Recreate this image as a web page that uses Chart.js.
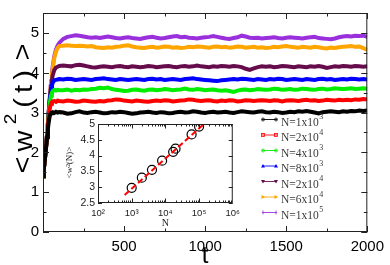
<!DOCTYPE html>
<html><head><meta charset="utf-8">
<script src="https://cdn.jsdelivr.net/npm/chart.js@4.4.0/dist/chart.umd.min.js"></script>
<style>
html,body{margin:0;padding:0;background:#fff;}
#wrap{position:relative;width:390px;height:265px;overflow:hidden;background:#fff;}
#main{position:absolute;left:0;top:0;}
#inset{position:absolute;left:60px;top:112px;}
</style></head><body>
<div id="wrap"><canvas id="main" width="390" height="265"></canvas><canvas id="inset" width="185" height="122"></canvas></div>
<script>
// ---------- DATA ----------
const times = [0,5,10,15,20,25,30,35,40,45,50,55,60,70,80,90,100,
125,150,175,200,225,250,275,300,325,350,
375,400,425,450,475,500,525,550,575,600,
625,650,675,700,725,750,775,800,825,850,
875,900,925,950,975,1000,1025,1050,1075,1100,
1125,1150,1175,1200,1225,1250,1275,1300,1325,1350,
1375,1400,1425,1450,1475,1500,1525,1550,1575,1600,
1625,1650,1675,1700,1725,1750,1775,1800,1825,1850,
1875,1900,1925,1950,1975,2000];

const wN1e3 = [1.40,1.58,1.76,1.95,2.16,2.38,2.58,2.76,2.88,2.95,2.98,3.00,3.01,2.99,3.02,3.00,3.01,
3.00,2.97,2.98,3.01,3.03,3.00,2.99,3.01,3.02,3.00,
2.98,2.99,3.01,3.00,3.02,3.01,2.99,2.97,2.98,3.00,
3.01,3.02,3.00,2.99,3.01,3.00,2.98,2.99,3.01,3.02,
3.00,3.01,3.03,3.02,3.00,2.99,3.01,3.02,3.00,3.01,
3.02,3.00,2.99,3.01,3.03,3.02,3.01,3.00,3.02,3.03,
3.01,3.00,3.02,3.01,2.99,3.00,3.02,3.01,3.03,3.02,
3.04,3.02,3.00,2.98,3.01,3.02,3.03,3.02,3.01,3.03,
3.02,3.04,3.03,3.05,3.04,3.05];

const wN2e3 = [1.40,1.58,1.77,1.97,2.18,2.42,2.66,2.90,3.06,3.16,3.22,3.26,3.28,3.29,3.27,3.30,3.29,
3.28,3.30,3.29,3.27,3.28,3.30,3.29,3.28,3.27,3.29,
3.28,3.30,3.31,3.33,3.32,3.30,3.29,3.28,3.30,3.29,
3.28,3.27,3.29,3.30,3.29,3.31,3.30,3.28,3.29,3.30,
3.31,3.33,3.32,3.30,3.29,3.30,3.31,3.29,3.28,3.30,
3.29,3.31,3.30,3.28,3.29,3.31,3.30,3.29,3.30,3.31,
3.30,3.29,3.31,3.30,3.28,3.30,3.31,3.30,3.29,3.31,
3.32,3.30,3.31,3.29,3.30,3.32,3.31,3.30,3.32,3.31,
3.32,3.31,3.33,3.32,3.34,3.33];

const wN4e3 = [1.39,1.58,1.77,1.97,2.19,2.43,2.69,2.95,3.16,3.32,3.43,3.50,3.54,3.57,3.55,3.57,3.56,
3.56,3.58,3.55,3.57,3.56,3.58,3.57,3.59,3.60,3.62,
3.61,3.63,3.59,3.57,3.56,3.54,3.55,3.57,3.58,3.56,
3.55,3.57,3.58,3.56,3.57,3.59,3.58,3.56,3.57,3.58,
3.60,3.58,3.57,3.59,3.58,3.56,3.57,3.58,3.56,3.55,
3.56,3.54,3.52,3.55,3.57,3.58,3.56,3.57,3.59,3.58,
3.57,3.58,3.60,3.59,3.57,3.58,3.59,3.57,3.58,3.60,
3.59,3.58,3.57,3.59,3.60,3.58,3.59,3.61,3.60,3.59,
3.60,3.61,3.59,3.60,3.61,3.60];

const wN8e3 = [1.40,1.59,1.78,1.98,2.20,2.44,2.70,2.97,3.22,3.42,3.58,3.68,3.75,3.81,3.82,3.83,3.84,
3.83,3.85,3.84,3.82,3.83,3.84,3.83,3.82,3.84,3.85,
3.86,3.84,3.83,3.82,3.84,3.83,3.82,3.83,3.84,3.83,
3.82,3.84,3.85,3.83,3.84,3.82,3.83,3.84,3.83,3.82,
3.84,3.85,3.86,3.84,3.83,3.82,3.81,3.80,3.79,3.81,
3.82,3.83,3.84,3.83,3.85,3.84,3.83,3.82,3.84,3.83,
3.82,3.84,3.83,3.85,3.84,3.82,3.83,3.84,3.83,3.82,
3.84,3.83,3.82,3.84,3.85,3.83,3.84,3.82,3.83,3.84,
3.83,3.85,3.84,3.83,3.84,3.83];

const wN2e4 = [1.40,1.59,1.78,1.98,2.20,2.45,2.71,2.98,3.24,3.46,3.66,3.82,3.94,4.07,4.13,4.15,4.17,
4.18,4.17,4.16,4.19,4.20,4.18,4.16,4.14,4.13,4.15,
4.16,4.15,4.14,4.16,4.17,4.15,4.14,4.16,4.15,4.14,
4.15,4.17,4.16,4.14,4.15,4.16,4.17,4.15,4.14,4.16,
4.17,4.15,4.16,4.18,4.16,4.15,4.14,4.16,4.15,4.17,
4.16,4.15,4.17,4.16,4.14,4.10,4.07,4.11,4.14,4.16,
4.15,4.16,4.14,4.15,4.17,4.16,4.15,4.14,4.16,4.15,
4.14,4.16,4.15,4.17,4.15,4.12,4.14,4.16,4.15,4.17,
4.16,4.15,4.17,4.16,4.15,4.16];

const wN6e4 = [1.41,1.60,1.79,1.99,2.21,2.46,2.72,3.00,3.27,3.52,3.76,3.96,4.12,4.38,4.53,4.62,4.67,
4.68,4.69,4.68,4.67,4.68,4.67,4.66,4.67,4.64,4.63,
4.62,4.64,4.63,4.65,4.66,4.68,4.69,4.66,4.64,4.63,
4.62,4.64,4.65,4.63,4.64,4.66,4.65,4.63,4.64,4.62,
4.63,4.65,4.64,4.66,4.65,4.64,4.63,4.65,4.66,4.64,
4.65,4.63,4.64,4.66,4.65,4.63,4.64,4.65,4.63,4.64,
4.62,4.63,4.65,4.64,4.66,4.67,4.65,4.64,4.63,4.65,
4.64,4.63,4.65,4.64,4.62,4.61,4.63,4.62,4.64,4.65,
4.66,4.67,4.65,4.66,4.62,4.57];

const wN1e5 = [1.41,1.60,1.79,1.99,2.21,2.46,2.72,3.00,3.28,3.54,3.78,3.99,4.16,4.42,4.58,4.68,4.75,
4.85,4.90,4.92,4.94,4.93,4.91,4.89,4.88,4.89,4.87,
4.89,4.91,4.89,4.87,4.86,4.88,4.89,4.87,4.86,4.85,
4.87,4.89,4.90,4.88,4.86,4.87,4.89,4.91,4.92,4.89,
4.90,4.88,4.87,4.86,4.88,4.89,4.90,4.92,4.90,4.88,
4.86,4.85,4.87,4.89,4.93,4.91,4.88,4.87,4.88,4.86,
4.87,4.88,4.89,4.87,4.86,4.88,4.89,4.88,4.87,4.86,
4.88,4.89,4.90,4.87,4.86,4.85,4.84,4.86,4.89,4.91,
4.92,4.91,4.93,4.92,4.93,4.90];

const legendBase = ['N=1x10','N=2x10','N=4x10','N=8x10','N=2x10','N=6x10','N=1x10'];
const legendExp  = ['3','4','3','3','4','4','5'];

const xTickValues = [500,1000,1500,2000];
const xTickLabels = ['500','1000','1500','2000'];
const yTickValues = [0,1,2,3,4,5];

const insetN = [1000,2000,4000,8000,17000,20000,60000,100000];
const insetW = [2.98,3.30,3.55,3.84,4.12,4.22,4.67,4.92];
const fitN = [617,140000];
const fitW = [2.75,5.0];
const insetXTickValues = [100,1000,10000,100000,1000000];
const insetXTickLabels = ['10\u00B2','10\u00B3','10\u2074','10\u2075','10\u2076'];
const insetYTickValues = [2.5,3,3.5,4,4.5,5];

// ---------- STYLE ----------
const colors = ['#000000','#ff0000','#00ee00','#0000ff','#660c4c','#ffa500','#9a30dc'];
const markers = ['circle','square','circle','triUp','triDown','triRight','plus'];
const series = [wN1e3,wN2e3,wN4e3,wN8e3,wN2e4,wN6e4,wN1e5];
const SANS = "'Liberation Sans', Arial, sans-serif";
const SERIF = "'Liberation Serif', 'Times New Roman', serif";
Chart.defaults.font.family = SANS;

function drawMarker(ctx, type, x, y, col){
  ctx.save(); ctx.strokeStyle = col; ctx.fillStyle = col; ctx.lineWidth = 0.8;
  ctx.beginPath();
  if(type==='circle'){ ctx.arc(x,y,1.5,0,Math.PI*2); ctx.stroke(); }
  else if(type==='square'){ ctx.strokeRect(x-1.5,y-1.5,3,3); }
  else if(type==='triUp'){ ctx.moveTo(x,y-2); ctx.lineTo(x+2,y+1.5); ctx.lineTo(x-2,y+1.5); ctx.closePath(); ctx.fill(); }
  else if(type==='triDown'){ ctx.moveTo(x,y+2); ctx.lineTo(x+2,y-1.5); ctx.lineTo(x-2,y-1.5); ctx.closePath(); ctx.fill(); }
  else if(type==='triRight'){ ctx.moveTo(x+2,y); ctx.lineTo(x-1.5,y-2); ctx.lineTo(x-1.5,y+2); ctx.closePath(); ctx.fill(); }
  else if(type==='plus'){ ctx.moveTo(x,y-2); ctx.lineTo(x,y+2); ctx.stroke(); }
  ctx.restore();
}

const mainDeco = {
  id:'mainDeco',
  afterDraw(c){
    const {ctx, chartArea:a, scales:{x,y}} = c;
    ctx.save();
    ctx.strokeStyle = '#222'; ctx.lineWidth = 1;
    ctx.strokeRect(a.left+0.5, a.top+0.5, a.right-a.left-1, a.bottom-a.top-1);
    ctx.beginPath();
    for(let v=0; v<=2000; v+=250){
      const px = Math.round(x.getPixelForValue(v))+0.5;
      const L = (v%500===0)?6:3.5;
      ctx.moveTo(px,a.bottom); ctx.lineTo(px,a.bottom-L);
      ctx.moveTo(px,a.top); ctx.lineTo(px,a.top+L);
    }
    for(let v=0; v<=5.5; v+=0.5){
      const py = Math.round(y.getPixelForValue(v))+0.5;
      const L = (Math.abs(v-Math.round(v))<1e-6)?6:3.5;
      ctx.moveTo(a.left,py); ctx.lineTo(a.left+L,py);
      ctx.moveTo(a.right,py); ctx.lineTo(a.right-L,py);
    }
    ctx.stroke();

    // y title  <w^2(t)>
    ctx.save();
    ctx.translate(32, 0);
    ctx.rotate(-Math.PI/2);
    ctx.fillStyle = '#000'; ctx.textAlign = 'center'; ctx.textBaseline = 'alphabetic';
    const big = "26px " + SANS, small = "17px " + SANS;
    const parts = [['<',-165,-1,big],['w',-141,0,big],['2',-119,-16,small],['(',-103,0,big],['t',-89,0,big],[')',-75,0,big],['>',-52,-1,big]];
    for(const [ch,u,v,f] of parts){
      ctx.save(); ctx.translate(u,v); ctx.scale(1.12,1); ctx.font = f; ctx.fillText(ch,0,0); ctx.restore();
    }
    ctx.restore();

    // x title t
    ctx.fillStyle = '#000'; ctx.textAlign = 'center'; ctx.textBaseline = 'alphabetic';
    ctx.font = "24px " + SANS;
    ctx.fillText('t', (a.left+a.right)/2, 263);

    // legend
    for(let i=0;i<legendBase.length;i++){
      const ry = 119.5 + i*15.5;
      ctx.strokeStyle = colors[i]; ctx.lineWidth = 0.9;
      ctx.beginPath(); ctx.moveTo(262, ry); ctx.lineTo(277, ry); ctx.stroke();
      drawMarker(ctx, markers[i], 263, ry, colors[i]);
      drawMarker(ctx, markers[i], 276, ry, colors[i]);
      ctx.fillStyle = '#3a3a3a'; ctx.textAlign = 'left';
      ctx.font = "11.5px " + SERIF;
      ctx.fillText(legendBase[i], 281, ry+6);
      const w = ctx.measureText(legendBase[i]).width;
      ctx.font = "8px " + SERIF;
      ctx.fillText(legendExp[i], 281+w+0.5, ry-0.5);
    }
    ctx.restore();
  }
};

new Chart(document.getElementById('main'), {
  type:'line',
  data:{ datasets: series.map((s,i)=>({
    label: legendBase[i]+legendExp[i],
    data: times.map((t,j)=>({x:t, y:s[j]})),
    borderColor: colors[i], backgroundColor: colors[i],
    borderWidth: 4, pointRadius: 0, tension: 0, fill:false
  }))},
  options:{
    responsive:false, animation:false, devicePixelRatio:1,
    layout:{padding:{left:0,right:17,top:1,bottom:0}},
    plugins:{legend:{display:false}, tooltip:{enabled:false}},
    scales:{
      x:{type:'linear', min:0, max:2000,
        afterBuildTicks:s=>{ s.ticks = xTickValues.map(v=>({value:v})); },
        afterFit:s=>{ s.height = 33; },
        grid:{display:false, drawTicks:false}, border:{display:false},
        ticks:{font:{size:15}, color:'#000', padding:6, maxRotation:0, autoSkip:false,
          callback:(v)=>{ const i = xTickValues.indexOf(v); return i>=0?xTickLabels[i]:''; }}},
      y:{type:'linear', min:0, max:5.5,
        afterBuildTicks:s=>{ s.ticks = yTickValues.map(v=>({value:v})); },
        afterFit:s=>{ s.width = 43; },
        grid:{display:false, drawTicks:false}, border:{display:false},
        ticks:{font:{size:15}, color:'#000', padding:4, callback:v=>String(v)}}
    }
  },
  plugins:[mainDeco]
});

// ---------- INSET ----------
const insetDeco = {
  id:'insetDeco',
  afterDraw(c){
    const {ctx, chartArea:a, scales:{x,y}} = c;
    ctx.save();
    ctx.strokeStyle = '#222'; ctx.lineWidth = 1;
    ctx.strokeRect(a.left+0.5, a.top+0.5, a.right-a.left-1, a.bottom-a.top-1);
    ctx.beginPath();
    for(let d=2; d<6; d++){
      for(let m=1; m<10; m++){
        const px = Math.round(x.getPixelForValue(m*Math.pow(10,d)))+0.5;
        const L = m===1?4.5:2.5;
        ctx.moveTo(px,a.bottom); ctx.lineTo(px,a.bottom-L);
        ctx.moveTo(px,a.top); ctx.lineTo(px,a.top+L);
      }
    }
    for(let v=2.5; v<=5.001; v+=0.5){
      const py = Math.round(y.getPixelForValue(v))+0.5;
      ctx.moveTo(a.left,py); ctx.lineTo(a.left+4,py);
      ctx.moveTo(a.right,py); ctx.lineTo(a.right-4,py);
    }
    ctx.stroke();
    // titles
    ctx.fillStyle = '#222'; ctx.textAlign = 'center'; ctx.textBaseline = 'middle';
    ctx.font = "10px " + SERIF;
    ctx.fillText('N', (a.left+a.right)/2, 111);
    ctx.save();
    ctx.translate(10, (a.top+a.bottom)/2 - 1);
    ctx.rotate(-Math.PI/2);
    ctx.font = "9px " + SERIF;
    ctx.fillText('<w\u00B2(N)>', 0, 0);
    ctx.restore();
    ctx.restore();
  }
};

new Chart(document.getElementById('inset'), {
  type:'scatter',
  data:{ datasets:[
    { data: fitN.map((n,i)=>({x:n, y:fitW[i]})), showLine:true, borderColor:'#ff0000', borderWidth:2,
      borderDash:[6,3], pointRadius:0, fill:false },
    { data: insetN.map((n,i)=>({x:n, y:insetW[i]})), showLine:false, pointRadius:4.5,
      pointBorderWidth:1.2, pointBorderColor:'#000', pointBackgroundColor:'rgba(0,0,0,0)', borderColor:'#000' }
  ]},
  options:{
    responsive:false, animation:false, devicePixelRatio:1,
    layout:{padding:{left:0,right:12,top:12,bottom:0}},
    plugins:{legend:{display:false}, tooltip:{enabled:false}},
    scales:{
      x:{type:'logarithmic', min:100, max:1000000,
        afterBuildTicks:s=>{ s.ticks = insetXTickValues.map(v=>({value:v})); },
        afterFit:s=>{ s.height = 31; },
        grid:{display:false, drawTicks:false}, border:{display:false},
        ticks:{font:{size:9.5}, color:'#222', padding:5, maxRotation:0, autoSkip:false,
          callback:(v)=>{ const i = insetXTickValues.indexOf(v); return i>=0?insetXTickLabels[i]:''; }}},
      y:{type:'linear', min:2.5, max:5,
        afterBuildTicks:s=>{ s.ticks = insetYTickValues.map(v=>({value:v})); },
        afterFit:s=>{ s.width = 38; },
        grid:{display:false, drawTicks:false}, border:{display:false},
        ticks:{font:{size:10.5}, color:'#222', padding:3, callback:v=>String(v)}}
    }
  },
  plugins:[insetDeco]
});
</script>
</body></html>
